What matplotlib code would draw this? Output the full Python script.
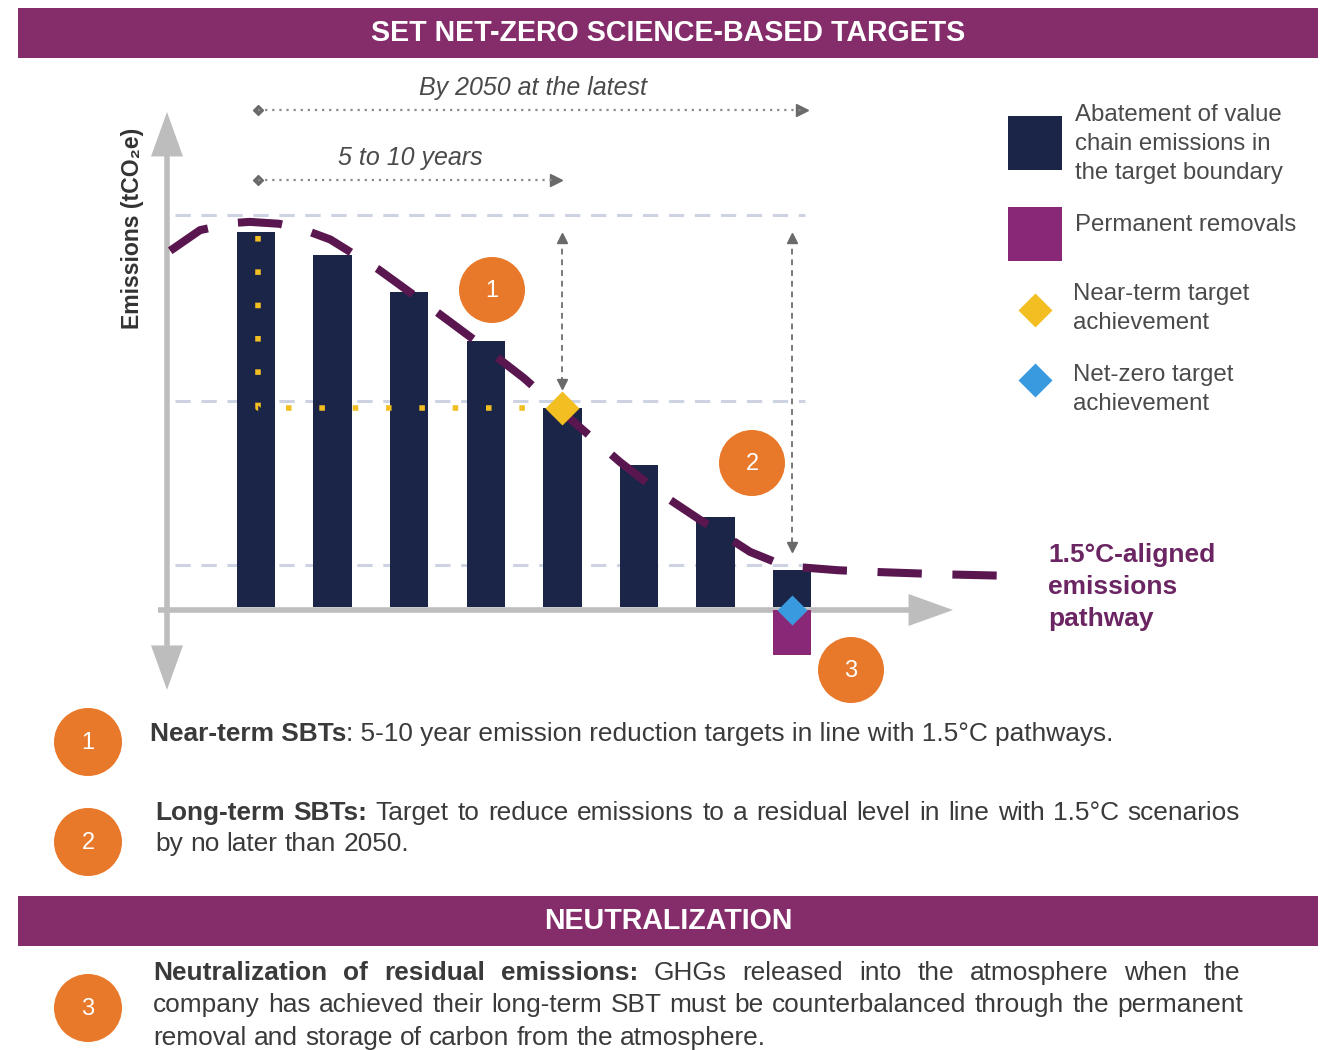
import matplotlib
matplotlib.use("Agg")
import matplotlib.pyplot as plt
from matplotlib.patches import Rectangle, Circle, FancyArrowPatch, ArrowStyle

plt.rcParams['font.family'] = ['Liberation Sans', 'DejaVu Sans']

# emissions per period (first bar = 100) and permanent removals
bar_values = [100, 94, 84, 71, 53, 38, 24, 10]
removal_values = [0, 0, 0, 0, 0, 0, 0, -12]

# 1.5C-aligned pathway, read in bar-index / emission units
path_x = [-1.12, -0.73, -0.3, -0.08, 0.3, 0.6, 0.97, 1.6, 2.14, 2.93, 3.5, 3.97,
          4.75, 5.3, 5.8, 6.2, 6.45, 6.8, 7.1, 7.6, 8.15, 9.0, 9.85]
path_y = [95, 100.5, 102.4, 102.7, 102.2, 100.8, 98, 90, 82, 70, 61, 52.5,
          38.7, 30, 23.2, 18, 14.7, 11.8, 10.6, 9.8, 9.3, 8.7, 8.3]

ref_levels = [104.5, 55, 11.2]      # grey dashed reference levels
near_term = (4, 53)                  # near-term target achievement
net_zero = (7, -0.8)                 # net-zero target achievement

legend_labels = ["Abatement of value\nchain emissions in\nthe target boundary",
                 "Permanent removals",
                 "Near-term target\nachievement",
                 "Net-zero target\nachievement"]

NAVY = "#1b2548"
PLUM = "#8a2878"
BAND = "#852c6b"
PATH = "#5a164f"
ORANGE = "#e8792a"
YELLOW = "#f2be22"
BLUE = "#3a9ae0"
AXIS = "#bdbdbd"
TEXT = "#3a3a3a"
BODY = 18.9

W, H = 1324, 1050
fig = plt.figure(figsize=(W / 100, H / 100), dpi=100)

# pixel-space layer for bands, legend and captions
bg = fig.add_axes([0, 0, 1, 1])
bg.set_xlim(0, W)
bg.set_ylim(H, 0)
bg.axis('off')

# chart layer: x = bar index, y = emissions
PX0, STEP, BASE, UNIT = 256, 76.6, 607, 3.75
ax = fig.add_axes([0, 0, 1, 1])
ax.set_xlim(-PX0 / STEP, (W - PX0) / STEP)
ax.set_ylim((BASE - H) / UNIT, BASE / UNIT)
ax.axis('off')
ax.patch.set_alpha(0)

# header bands
for y0, title in [(8, "SET NET-ZERO SCIENCE-BASED TARGETS"), (896, "NEUTRALIZATION")]:
    bg.add_patch(Rectangle((18, y0), 1300, 50, color=BAND, lw=0))
    bg.text(668, y0 + 25, title, color="white", fontsize=20.6, fontweight='bold',
            ha='center', va='center')

# axes arrows
def arrow(p0, p1):
    ax.add_patch(FancyArrowPatch(p0, p1, arrowstyle=ArrowStyle.Simple(
        head_length=3.2, head_width=2.3, tail_width=0.4), mutation_scale=10,
        shrinkA=0, shrinkB=0, color=AXIS, lw=0, zorder=1))

yx = (167 - PX0) / STEP
arrow((yx, -0.8), (yx, 132))
arrow((yx, -0.8), (yx, -22.1))
arrow(((158 - PX0) / STEP, -0.8), ((953 - PX0) / STEP, -0.8))

ax.text(yx - 0.45, 101, "Emissions (tCO\u2082e)", rotation=90, fontsize=16.6,
        fontweight='bold', color="#333333", ha='center', va='center')

# reference levels
for lv in ref_levels:
    ax.plot([-1.06, 7.17], [lv, lv], color="#cdd3e3", lw=2.2,
            dashes=(5, 3.5), zorder=1)

idx = list(range(len(bar_values)))
ax.bar(idx, bar_values, width=0.5, color=NAVY, zorder=2)
ax.bar(idx, removal_values, width=0.5, bottom=-0.8, color=PLUM, zorder=2)

# near-term dotted guide
ax.plot([0.03, 0.03, near_term[0] - 0.27], [99, near_term[1], near_term[1]],
        color=YELLOW, lw=4, linestyle=(0, (1, 5)), zorder=3)

# pathway
ax.plot(path_x, path_y, color=PATH, lw=5.8, dashes=(5.5, 3.8), zorder=4)

# target arrows
for xv, low in [(near_term[0], 59.5), (net_zero[0], 15.9)]:
    ax.plot([xv, xv], [98.5, low], color="#7a7a7a", lw=1.4, dashes=(3, 2.5), zorder=3)
    ax.plot(xv, 98.5, marker='^', ms=7, color="#6a6a6a", zorder=3)
    ax.plot(xv, low, marker='v', ms=7, color="#6a6a6a", zorder=3)

ax.plot(*near_term, marker='D', ms=17, color=YELLOW, mec='none', zorder=5)
ax.plot(*net_zero, marker='D', ms=15, color=BLUE, mec='none', zorder=5)

# timeline spans
for yv, xend, label in [(132.5, 7.21, "By 2050 at the latest"), (113.9, 4.0, "5 to 10 years")]:
    ax.plot([0.03, xend - 0.08], [yv, yv], color="#8a8a8a", lw=1.6,
            linestyle=(0, (1, 2.2)), zorder=3)
    ax.plot(0.03, yv, marker='D', ms=5, color="#6a6a6a")
    ax.plot(xend - 0.08, yv, marker='>', ms=8, color="#6a6a6a")
    ax.text((0.03 + xend) / 2, yv + 5.8, label, fontsize=18, style='italic',
            color="#4a4a4a", ha='center', va='center')

# numbered markers
def badge(x, y, num, r=33):
    bg.add_patch(Circle((x, y), r, color=ORANGE, lw=0, zorder=6))
    bg.text(x, y + 1, num, color="white", fontsize=17, ha='center', va='center', zorder=7)

badge(492, 290, "1")
badge(752, 463, "2")
badge(851, 670, "3")

# legend
bg.add_patch(Rectangle((1008, 116), 54, 54, color=NAVY, lw=0))
bg.add_patch(Rectangle((1008, 207), 54, 54, color=PLUM, lw=0))
bg.plot(1035, 310, marker='D', ms=17, color=YELLOW, mec='none')
bg.plot(1035, 380, marker='D', ms=17, color=BLUE, mec='none')
for (x, y), lab in zip([(1075, 104), (1075, 214), (1073, 283), (1073, 364)], legend_labels):
    bg.text(x, y, lab, fontsize=17.3, color="#4a4a4a", va='top', linespacing=1.4)

bg.text(1048, 587, "1.5\u00b0C-aligned\nemissions\npathway", fontsize=19,
        fontweight='bold', color="#6b2562", va='center', linespacing=1.4)

# captions
renderer = fig.canvas.get_renderer()

def line(tokens, x0, y, size=BODY, x1=None):
    arts, widths = [], []
    for word, bold in tokens:
        t = bg.text(x0, y, word, fontsize=size, color=TEXT, va='baseline',
                    fontweight='bold' if bold else 'normal')
        arts.append(t)
        widths.append(t.get_window_extent(renderer).width)
    space = size * 0.278 * 100 / 72
    gap = space if x1 is None else (x1 - x0 - sum(widths)) / (len(arts) - 1)
    x = x0
    for t, w in zip(arts, widths):
        t.set_x(x)
        x += w + gap

def words(s, bold=False):
    return [(w, bold) for w in s.split()]

badge(88, 742, "1", 34)
t1 = bg.text(150, 741, "Near-term SBTs", fontsize=BODY, fontweight='bold', color=TEXT, va='baseline')
w1 = t1.get_window_extent(renderer).width
bg.text(150 + w1, 741, ": 5-10 year emission reduction targets in line with 1.5\u00b0C pathways.",
        fontsize=BODY, color=TEXT, va='baseline')

badge(88, 842, "2", 34)
line(words("Long-term SBTs:", True) + words("Target to reduce emissions to a residual level in line with 1.5\u00b0C scenarios"),
     155, 820, x1=1240)
line(words("by no later than 2050."), 155, 851)

badge(88, 1008, "3", 34)
line(words("Neutralization of residual emissions:", True) + words("GHGs released into the atmosphere when the"),
     153, 980, x1=1240)
line(words("company has achieved their long-term SBT must be counterbalanced through the permanent"),
     153, 1012, x1=1243)
line(words("removal and storage of carbon from the atmosphere."), 153, 1045)

fig.savefig("out.png", dpi=100)
